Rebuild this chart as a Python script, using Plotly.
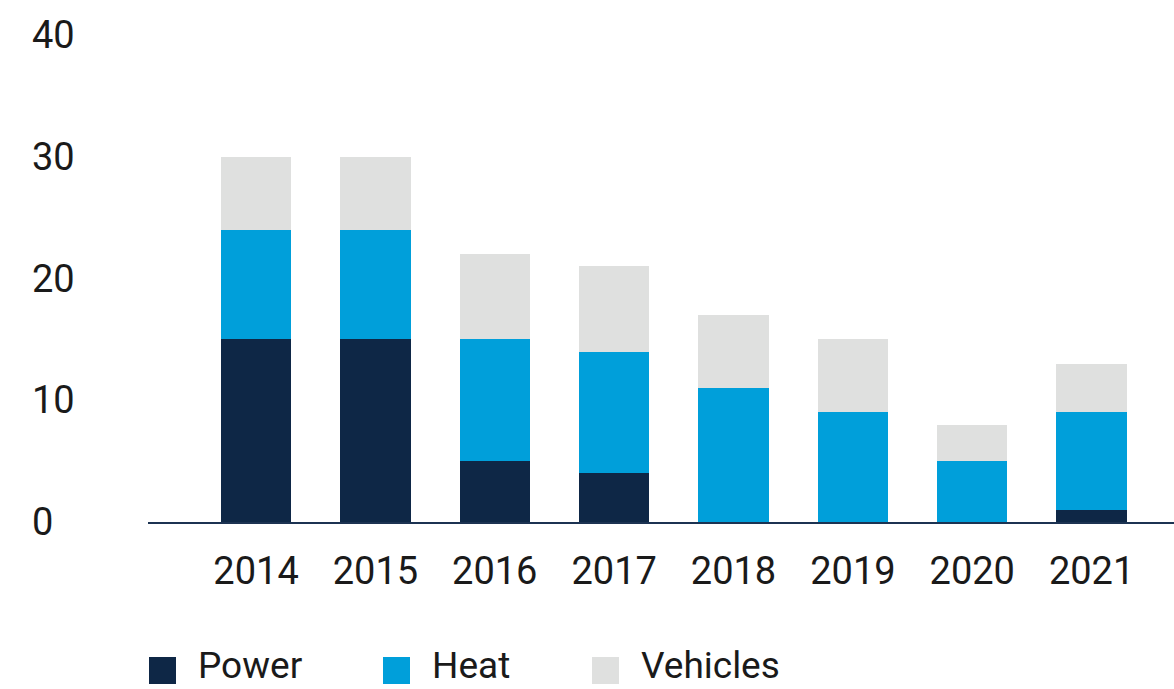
import plotly.graph_objects as go

# data
years = ["2014", "2015", "2016", "2017", "2018", "2019", "2020", "2021"]
power = [15, 15, 5, 4, 0, 0, 0, 1]
heat = [9, 9, 10, 10, 11, 9, 5, 8]
vehicles = [6, 6, 7, 7, 6, 6, 3, 4]
y_ticks = [0, 10, 20, 30, 40]

series_names = ["Power", "Heat", "Vehicles"]
colors = ["#0e2746", "#009fda", "#dfe0df"]

W, H = 1174, 689
ML, MR, MT, MB = 148, 0, 35, 167
FONT = "Roboto"
FS = 38

fig = go.Figure()
for name, vals, col in zip(series_names, [power, heat, vehicles], colors):
    fig.add_trace(go.Bar(x=years, y=vals, name=name, marker_color=col,
                         marker_line_width=0, showlegend=False))

pw = W - ML - MR
ph = H - MT - MB


def px_x(x):
    return (x - ML) / pw


def px_y(y):
    return (H - MB - y) / ph


# y tick labels, left aligned like the original
annotations = []
for t in y_ticks:
    annotations.append(dict(x=px_x(30), y=t, xref="paper", yref="y", text=str(t),
                            showarrow=False, xanchor="left", yanchor="middle",
                            font=dict(family=FONT, size=FS, color="#1a1a1a")))

# hand drawn legend
shapes = []
leg_x = [149, 383, 592]
for name, col, lx in zip(series_names, colors, leg_x):
    shapes.append(dict(type="rect", xref="paper", yref="paper",
                       x0=px_x(lx), x1=px_x(lx + 27), y0=px_y(684), y1=px_y(657),
                       fillcolor=col, line_width=0))
    annotations.append(dict(x=px_x(lx + 48), y=px_y(665), xref="paper", yref="paper",
                            text=name, showarrow=False, xanchor="left", yanchor="middle",
                            borderpad=0,
                            font=dict(family=FONT, size=37, color="#1a1a1a")))

fig.update_layout(
    barmode="stack",
    bargap=0.41,
    width=W, height=H,
    margin=dict(l=ML, r=MR, t=MT, b=MB),
    plot_bgcolor="white", paper_bgcolor="white",
    font=dict(family=FONT, size=FS, color="#1a1a1a"),
    xaxis=dict(range=[-0.905, 7.69], showgrid=False, showline=True,
               linecolor="#1c3352", linewidth=2, ticks="", ticklabelstandoff=14,
               tickfont=dict(size=FS)),
    yaxis=dict(range=[0, 40], showgrid=False, showticklabels=False, zeroline=False),
    annotations=annotations,
    shapes=shapes,
)

# drop the default page margin so the figure fills the window
fig.write_html("out.html", config={"displayModeBar": False},
               post_script="document.body.style.margin='0px';")
